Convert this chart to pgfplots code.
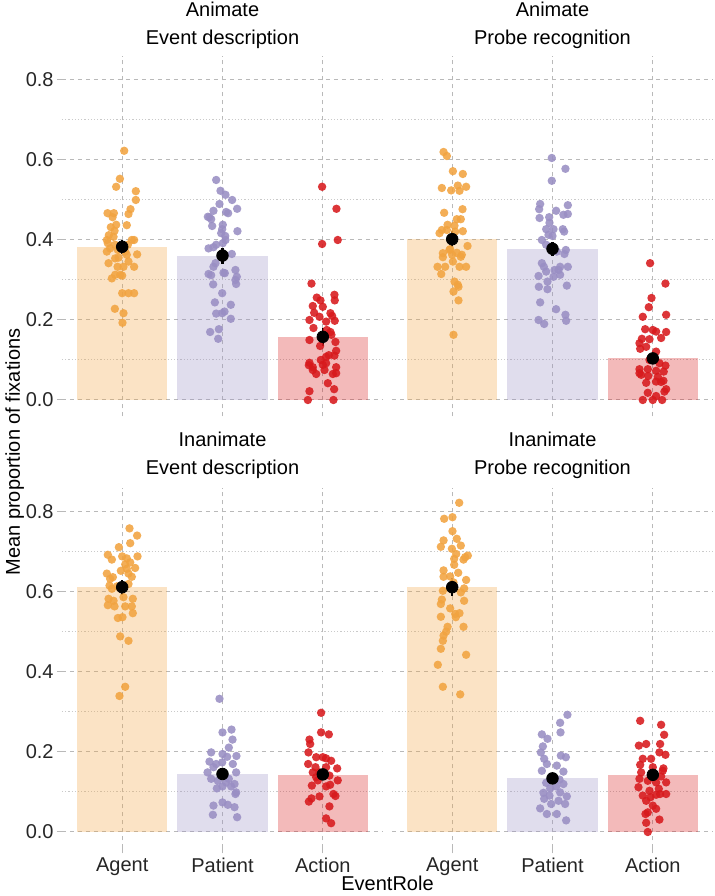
\documentclass[border=0pt]{standalone}
\usepackage{fontspec}
\setmainfont{Liberation Sans}
\usepackage{pgfplots}
\pgfplotsset{compat=1.18}
\definecolor{cAg}{HTML}{F1A340}
\definecolor{cPa}{HTML}{998EC3}
\definecolor{cAc}{HTML}{D7191C}
\definecolor{gridc}{RGB}{185,185,185}
\pgfplotsset{
  panel/.style={scale only axis, width=160.5pt, height=180.4pt, anchor=south west,
    xmin=0.4, xmax=3.6, ymin=-0.041, ymax=0.861,
    axis line style={draw=none},
    xtick={1,2,3}, xticklabels={Agent,Patient,Action},
    ytick={0,0.2,0.4,0.6,0.8}, minor ytick={0.1,0.3,0.5,0.7},
    grid=both,
    major grid style={gridc, line width=0.5pt, dash pattern=on 2pt off 2pt},
    minor grid style={gridc!75, line width=0.5pt, dash pattern=on 0.6pt off 1pt},
    tick align=outside, major tick length=2.5pt, minor tick length=0pt,
    tick style={gridc, line width=0.5pt},
    xtick pos=bottom, ytick pos=left,
    /pgf/number format/assume math mode=true,
    ticklabel style={font=\fontsize{10}{12}\selectfont, text=black!85},
    xticklabel style={inner sep=2pt},
    yticklabel style={inner sep=1.5pt, /pgf/number format/fixed, /pgf/number format/fixed zerofill, /pgf/number format/precision=1},
  },
  notop/.style={xticklabels={}, xtick style={draw=none}},
  noleft/.style={yticklabels={}, ytick style={draw=none}},
  bars/.style={ybar, bar width=0.9, bar shift=0pt, draw=none, fill=#1, fill opacity=0.3},
  pts/.style={only marks, mark=*, mark size=2.1pt, color=#1,
    mark options={solid, draw opacity=0, fill=#1, fill opacity=0.88}},
  means/.style={only marks, mark=*, mark size=2.9pt, black,
    error bars/.cd, y dir=both, y explicit, error mark=none, error bar style={line width=1.1pt, black}},
}
\begin{document}
\begin{tikzpicture}[font=\fontsize{10}{12}\selectfont]
\useasboundingbox (0,0) rectangle (357pt,448pt);
% ---------------- Animate / Event description
\begin{axis}[panel, notop, at={(31pt,239.8pt)}]
\addplot[bars=cAg] coordinates {(1,0.383)};
\addplot[bars=cPa] coordinates {(2,0.361)};
\addplot[bars=cAc] coordinates {(3,0.158)};
\addplot[pts=cAg] table[row sep=\\] {x y\\
1.020 0.623\\ 0.977 0.553\\ 0.940 0.533\\ 1.136 0.522\\ 1.136 0.500\\ 1.083 0.477\\ 0.854 0.467\\ 0.917 0.467\\ 0.904 0.457\\ 1.063 0.465\\
0.940 0.438\\ 1.046 0.437\\ 0.887 0.432\\ 0.924 0.423\\ 0.867 0.412\\ 0.847 0.400\\ 0.914 0.408\\ 1.119 0.400\\ 1.096 0.400\\ 0.857 0.392\\
0.930 0.388\\ 1.056 0.388\\ 0.880 0.379\\ 0.957 0.375\\ 1.030 0.371\\ 0.847 0.371\\ 1.046 0.363\\ 1.149 0.364\\ 0.964 0.356\\ 0.930 0.354\\
1.063 0.346\\ 0.864 0.342\\ 0.954 0.333\\ 1.013 0.333\\ 1.119 0.333\\ 0.930 0.313\\ 0.980 0.313\\ 1.000 0.311\\ 0.897 0.304\\ 1.000 0.267\\
1.063 0.267\\ 1.119 0.267\\ 0.927 0.228\\ 1.013 0.217\\ 1.003 0.193\\
};
\addplot[pts=cPa] table[row sep=\\] {x y\\
1.937 0.550\\ 1.980 0.523\\ 2.030 0.513\\ 2.096 0.500\\ 1.970 0.490\\ 2.146 0.478\\ 1.910 0.473\\ 2.036 0.470\\ 2.056 0.467\\ 1.854 0.458\\
1.870 0.457\\ 1.887 0.452\\ 1.897 0.435\\ 2.003 0.438\\ 1.997 0.427\\ 2.149 0.422\\ 1.987 0.417\\ 2.027 0.410\\ 2.030 0.400\\ 2.003 0.392\\
1.937 0.388\\ 1.861 0.379\\ 1.910 0.382\\ 2.093 0.365\\ 1.930 0.342\\ 1.910 0.333\\ 2.129 0.325\\ 1.861 0.315\\ 1.887 0.312\\ 2.010 0.318\\
2.023 0.317\\ 2.143 0.308\\ 2.129 0.300\\ 2.136 0.290\\ 1.907 0.289\\ 1.997 0.267\\ 1.924 0.244\\ 2.083 0.238\\ 1.937 0.216\\ 1.997 0.217\\
2.020 0.221\\ 2.083 0.203\\ 1.964 0.177\\ 1.877 0.170\\ 1.957 0.153\\
};
\addplot[pts=cAc] table[row sep=\\] {x y\\
2.993 0.533\\ 3.136 0.478\\ 2.993 0.390\\ 3.149 0.400\\ 2.887 0.291\\ 3.116 0.263\\ 2.940 0.256\\ 2.977 0.249\\ 3.119 0.249\\ 2.900 0.235\\
3.000 0.233\\ 2.914 0.218\\ 2.967 0.208\\ 3.076 0.217\\ 3.093 0.210\\ 2.867 0.200\\ 3.119 0.198\\ 3.033 0.196\\ 2.907 0.180\\ 3.040 0.175\\
3.076 0.170\\ 3.086 0.163\\ 2.867 0.150\\ 3.126 0.145\\ 2.973 0.135\\ 3.133 0.123\\ 3.060 0.112\\ 3.033 0.108\\ 3.116 0.111\\ 2.980 0.100\\
2.867 0.093\\ 3.033 0.092\\ 2.900 0.082\\ 3.000 0.088\\ 3.133 0.082\\ 2.861 0.087\\ 3.133 0.067\\ 3.100 0.065\\ 2.934 0.065\\ 3.017 0.075\\
3.050 0.042\\ 3.113 0.027\\ 2.867 0.022\\ 2.851 0.000\\ 3.106 0.000\\ 2.900 0.075\\
};
\addplot[means] coordinates {(1,0.383) +- (0,0.017) (2,0.361) +- (0,0.020) (3,0.158) +- (0,0.022)};
\end{axis}
% ---------------- Animate / Probe recognition
\begin{axis}[panel, notop, noleft, at={(196pt,239.8pt)}]
\addplot[bars=cAg] coordinates {(1,0.402)};
\addplot[bars=cPa] coordinates {(2,0.378)};
\addplot[bars=cAc] coordinates {(3,0.104)};
\addplot[pts=cAg] table[row sep=\\] {x y\\
0.914 0.620\\ 0.947 0.610\\ 1.007 0.572\\ 1.106 0.565\\ 0.897 0.530\\ 0.990 0.524\\ 1.056 0.536\\ 1.073 0.523\\ 1.139 0.533\\ 0.920 0.468\\
1.103 0.477\\ 1.046 0.452\\ 1.086 0.452\\ 0.954 0.438\\ 1.023 0.436\\ 0.897 0.425\\ 0.874 0.417\\ 1.106 0.422\\ 1.153 0.385\\ 0.907 0.367\\
0.980 0.377\\ 1.046 0.368\\ 1.096 0.363\\ 0.907 0.357\\ 1.007 0.346\\ 0.854 0.333\\ 0.930 0.333\\ 1.073 0.333\\ 1.139 0.333\\ 0.891 0.315\\
1.023 0.296\\ 1.056 0.288\\ 1.013 0.271\\ 1.063 0.283\\ 1.063 0.249\\ 1.013 0.163\\ 1.000 0.363\\ 0.947 0.425\\ 1.030 0.421\\ 0.973 0.375\\
1.086 0.358\\
};
\addplot[pts=cPa] table[row sep=\\] {x y\\
1.993 0.605\\ 2.129 0.578\\ 1.993 0.548\\ 1.877 0.490\\ 1.867 0.477\\ 2.153 0.487\\ 2.036 0.473\\ 2.109 0.463\\ 1.871 0.455\\ 1.967 0.457\\
2.153 0.465\\ 1.970 0.443\\ 1.937 0.427\\ 2.010 0.427\\ 2.103 0.427\\ 1.960 0.413\\ 2.116 0.421\\ 1.894 0.400\\ 2.000 0.410\\ 1.937 0.388\\
2.043 0.371\\ 2.133 0.375\\ 2.119 0.365\\ 1.977 0.383\\ 1.894 0.342\\ 1.914 0.333\\ 2.020 0.325\\ 2.076 0.333\\ 2.153 0.333\\ 1.937 0.321\\
2.076 0.313\\ 1.861 0.310\\ 2.010 0.308\\ 1.950 0.296\\ 1.864 0.283\\ 1.950 0.277\\ 2.143 0.286\\ 1.877 0.244\\ 2.036 0.227\\ 2.129 0.213\\
1.861 0.200\\ 1.917 0.190\\ 2.136 0.198\\ 2.060 0.325\\
};
\addplot[pts=cAc] table[row sep=\\] {x y\\
2.973 0.342\\ 3.126 0.291\\ 2.987 0.255\\ 2.960 0.232\\ 3.133 0.213\\ 2.900 0.208\\ 2.924 0.177\\ 3.000 0.175\\ 3.033 0.171\\ 3.133 0.170\\
3.083 0.155\\ 2.891 0.153\\ 2.967 0.152\\ 2.867 0.142\\ 2.934 0.133\\ 2.874 0.128\\ 3.033 0.121\\ 3.126 0.086\\ 2.867 0.077\\ 2.950 0.077\\
3.033 0.073\\ 3.109 0.071\\ 2.867 0.067\\ 2.954 0.060\\ 3.050 0.058\\ 3.106 0.048\\ 3.033 0.046\\ 2.934 0.043\\ 3.083 0.045\\ 3.133 0.027\\
3.116 0.021\\ 2.950 0.018\\ 3.033 0.010\\ 2.900 0.000\\ 3.000 0.000\\ 3.093 0.000\\ 2.884 0.063\\ 3.066 0.092\\ 2.967 0.100\\
};
\addplot[means] coordinates {(1,0.402) +- (0,0.020) (2,0.378) +- (0,0.018) (3,0.104) +- (0,0.012)};
\end{axis}
% ---------------- Inanimate / Event description
\begin{axis}[panel, at={(31pt,23.8pt)}]
\addplot[bars=cAg] coordinates {(1,0.612)};
\addplot[bars=cPa] coordinates {(2,0.145)};
\addplot[bars=cAc] coordinates {(3,0.143)};
\addplot[pts=cAg] table[row sep=\\] {x y\\
1.073 0.759\\ 1.149 0.741\\ 1.080 0.722\\ 0.967 0.712\\ 0.857 0.693\\ 0.897 0.681\\ 1.000 0.689\\ 1.046 0.684\\ 1.080 0.674\\ 1.153 0.689\\
1.030 0.669\\ 1.129 0.660\\ 0.987 0.653\\ 0.847 0.646\\ 1.063 0.646\\ 0.907 0.637\\ 1.096 0.638\\ 0.874 0.616\\ 0.947 0.614\\ 1.063 0.620\\
0.897 0.608\\ 0.864 0.583\\ 0.914 0.578\\ 1.013 0.587\\ 1.106 0.583\\ 0.857 0.567\\ 0.924 0.564\\ 1.030 0.564\\ 1.096 0.564\\ 1.106 0.547\\
0.957 0.535\\ 1.003 0.537\\ 0.980 0.489\\ 1.063 0.478\\ 1.030 0.363\\ 0.973 0.340\\ 0.880 0.633\\ 1.046 0.658\\
};
\addplot[pts=cPa] table[row sep=\\] {x y\\
1.970 0.333\\ 2.000 0.249\\ 2.090 0.256\\ 2.100 0.231\\ 2.063 0.211\\ 1.887 0.199\\ 2.000 0.195\\ 2.139 0.190\\ 2.046 0.188\\ 1.870 0.176\\
1.937 0.170\\ 2.103 0.170\\ 1.851 0.149\\ 1.910 0.162\\ 2.136 0.149\\ 1.887 0.133\\ 1.954 0.128\\ 2.063 0.133\\ 2.120 0.120\\ 2.086 0.114\\
2.000 0.114\\ 2.136 0.099\\ 1.944 0.109\\ 2.129 0.095\\ 1.910 0.066\\ 2.000 0.074\\ 2.053 0.068\\ 2.120 0.062\\ 1.904 0.043\\ 2.146 0.037\\
1.997 0.174\\ 2.036 0.124\\
};
\addplot[pts=cAc] table[row sep=\\] {x y\\
2.983 0.298\\ 2.983 0.249\\ 3.060 0.244\\ 2.867 0.231\\ 2.874 0.220\\ 2.857 0.199\\ 3.000 0.187\\ 2.934 0.187\\ 3.033 0.184\\ 3.083 0.178\\
2.854 0.170\\ 2.927 0.162\\ 3.143 0.159\\ 3.033 0.162\\ 2.967 0.149\\ 3.066 0.141\\ 3.149 0.129\\ 2.950 0.129\\ 3.073 0.118\\ 2.891 0.116\\
3.033 0.114\\ 3.106 0.095\\ 3.126 0.090\\ 2.967 0.089\\ 2.887 0.084\\ 2.861 0.076\\ 3.066 0.064\\ 3.033 0.034\\ 3.083 0.022\\ 2.934 0.137\\
2.900 0.149\\
};
\addplot[means] coordinates {(1,0.612) +- (0,0.019) (2,0.145) +- (0,0.010) (3,0.144) +- (0,0.012)};
\end{axis}
% ---------------- Inanimate / Probe recognition
\begin{axis}[panel, noleft, at={(196pt,23.8pt)}]
\addplot[bars=cAg] coordinates {(1,0.612)};
\addplot[bars=cPa] coordinates {(2,0.134)};
\addplot[bars=cAc] coordinates {(3,0.143)};
\addplot[pts=cAg] table[row sep=\\] {x y\\
1.070 0.823\\ 0.920 0.783\\ 1.003 0.787\\ 1.003 0.752\\ 0.914 0.729\\ 1.046 0.733\\ 1.086 0.716\\ 0.887 0.713\\ 0.997 0.708\\ 1.040 0.695\\
1.129 0.687\\ 1.156 0.691\\ 1.020 0.683\\ 1.113 0.681\\ 1.020 0.668\\ 0.914 0.654\\ 1.060 0.648\\ 0.914 0.638\\ 0.980 0.639\\ 1.139 0.630\\
0.907 0.603\\ 1.119 0.609\\ 1.086 0.599\\ 0.897 0.581\\ 1.119 0.578\\ 0.887 0.570\\ 0.980 0.559\\ 1.030 0.545\\ 1.073 0.547\\ 0.887 0.538\\
1.113 0.513\\ 0.954 0.513\\ 0.914 0.491\\ 0.907 0.478\\ 0.887 0.458\\ 1.139 0.443\\ 0.857 0.418\\ 0.907 0.363\\ 1.080 0.344\\ 0.940 0.501\\
1.013 0.624\\ 1.036 0.537\\
};
\addplot[pts=cPa] table[row sep=\\] {x y\\
2.149 0.293\\ 2.076 0.273\\ 2.080 0.249\\ 1.894 0.244\\ 1.950 0.233\\ 1.904 0.214\\ 1.884 0.199\\ 2.083 0.191\\ 2.133 0.187\\ 1.917 0.183\\
1.944 0.170\\ 2.043 0.166\\ 1.894 0.153\\ 2.109 0.151\\ 2.070 0.131\\ 1.937 0.123\\ 2.109 0.120\\ 2.036 0.114\\ 1.977 0.109\\ 1.910 0.098\\
2.076 0.099\\ 1.970 0.091\\ 2.143 0.089\\ 1.877 0.059\\ 1.944 0.045\\ 2.043 0.045\\ 1.987 0.070\\ 2.126 0.070\\ 2.136 0.029\\ 1.917 0.083\\
2.060 0.078\\
};
\addplot[pts=cAc] table[row sep=\\] {x y\\
2.874 0.278\\ 3.083 0.268\\ 3.113 0.243\\ 3.073 0.220\\ 2.861 0.216\\ 2.934 0.220\\ 3.126 0.193\\ 3.066 0.199\\ 2.900 0.183\\ 2.983 0.183\\
2.874 0.168\\ 3.000 0.162\\ 3.106 0.159\\ 3.083 0.139\\ 2.867 0.133\\ 3.033 0.124\\ 2.950 0.128\\ 3.133 0.124\\ 3.060 0.108\\ 2.857 0.112\\
2.967 0.103\\ 3.133 0.095\\ 2.900 0.091\\ 3.033 0.093\\ 3.073 0.095\\ 2.977 0.087\\ 2.934 0.078\\ 3.033 0.058\\ 2.950 0.049\\ 2.927 0.045\\
3.066 0.031\\ 2.934 0.023\\ 2.950 0.000\\ 3.000 0.066\\ 3.099 0.153\\ 2.884 0.149\\
};
\addplot[means] coordinates {(1,0.612) +- (0,0.022) (2,0.134) +- (0,0.010) (3,0.143) +- (0,0.012)};
\end{axis}
% ---------------- strip titles and axis titles
\node[anchor=base] at (111.25pt,439.5pt) {Animate};
\node[anchor=base] at (111.25pt,425.5pt) {Event description};
\node[anchor=base] at (276.25pt,439.5pt) {Animate};
\node[anchor=base] at (276.25pt,425.5pt) {Probe recognition};
\node[anchor=base] at (111.25pt,224.5pt) {Inanimate};
\node[anchor=base] at (111.25pt,210.5pt) {Event description};
\node[anchor=base] at (276.25pt,224.5pt) {Inanimate};
\node[anchor=base] at (276.25pt,210.5pt) {Probe recognition};
\node[anchor=base] at (193.75pt,2.5pt) {EventRole};
\node[rotate=90, anchor=base] at (10pt,222pt) {Mean proportion of fixations};
\end{tikzpicture}
\end{document}
